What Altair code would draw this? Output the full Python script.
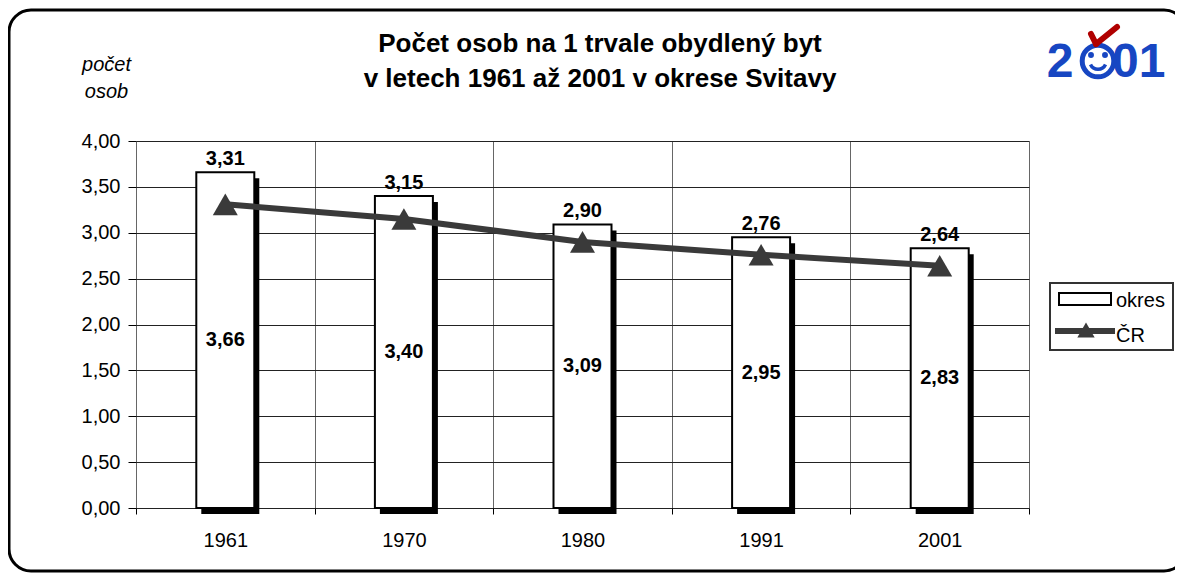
import altair as alt
import pandas as pd

# ---------------- data ----------------
years = ["1961", "1970", "1980", "1991", "2001"]
okres = [3.66, 3.40, 3.09, 2.95, 2.83]
cr = [3.31, 3.15, 2.90, 2.76, 2.64]
y_ticks = [0, 0.5, 1, 1.5, 2, 2.5, 3, 3.5, 4]
title_lines = ["Počet osob na 1 trvale obydlený byt",
               "v letech 1961 až 2001 v okrese Svitavy"]
y_title = ["počet", "osob"]
legend_labels = ["okres", "ČR"]

df = pd.DataFrame({"year": years, "okres": okres, "cr": cr})
one = pd.DataFrame({"k": [0]})

FONT = "Liberation Sans"
LINE = "#3a3a3a"
BLUE = "#1746c2"
W, H = 893, 367

fmt = "replace(format({}, '.2f'), '.', ',')"

xaxis = alt.Axis(
    labelAngle=0, labelFont=FONT, labelFontSize=20, labelColor="black",
    labelPadding=16, tickBand="extent", tickSize=6, tickColor="black",
    grid=True, gridColor="#666", gridWidth=1, domain=False,
)
yaxis = alt.Axis(
    values=y_ticks, labelExpr=fmt.format("datum.value"),
    labelFont=FONT, labelFontSize=20, labelColor="black", labelPadding=8,
    tickSize=8, tickColor="black", grid=True, gridColor="#222", gridWidth=1,
    domain=False,
    titleAngle=0, titleX=-30, titleY=-71, titleAlign="center",
    titleBaseline="alphabetic", titleFont=FONT, titleFontSize=20,
    titleFontStyle="italic", titleFontWeight="normal", titleColor="black",
    titleLineHeight=27,
)
xscale = alt.Scale(paddingInner=0, paddingOuter=0)
yscale = alt.Scale(domain=[0, 4], nice=False, zero=True)


def X():
    return alt.X("year:N", sort=years, title=None, axis=xaxis, scale=xscale)


def Y(field):
    return alt.Y(field, type="quantitative", scale=yscale, axis=yaxis, title=y_title)


base = alt.Chart(df)

# outer rounded frame
frame = alt.Chart(one).mark_rect(
    fill="white", fillOpacity=0, stroke="black", strokeWidth=3, cornerRadius=22
).encode(x=alt.value(-127), x2=alt.value(1050), y=alt.value(-131), y2=alt.value(430))

shadow = base.mark_bar(size=58, color="black", xOffset=5, yOffset=6).encode(
    x=X(), y=Y("okres"))
bars = base.mark_bar(size=58, fill="white", stroke="black", strokeWidth=2).encode(
    x=X(), y=Y("okres"))
line = base.mark_line(color=LINE, strokeWidth=6).encode(x=X(), y=Y("cr"))
pts = base.mark_point(shape="triangle-up", filled=True, size=625, color=LINE,
                      opacity=1).encode(x=X(), y=Y("cr"))

top_lbl = base.transform_calculate(lbl=fmt.format("datum.cr")).mark_text(
    font=FONT, fontSize=20, fontWeight="bold", baseline="alphabetic", dy=-7,
    color="black").encode(x=X(), y=Y("okres"), text="lbl:N")
mid_lbl = base.transform_calculate(
    lbl=fmt.format("datum.okres"), mid="datum.okres / 2").mark_text(
    font=FONT, fontSize=20, fontWeight="bold", baseline="alphabetic", dy=6,
    color="black").encode(x=X(), y=Y("mid"), text="lbl:N")

# legend (drawn manually, Excel style)
leg_box = alt.Chart(one).mark_rect(fill="white", stroke="#333", strokeWidth=2).encode(
    x=alt.value(914), x2=alt.value(1037), y=alt.value(142), y2=alt.value(209))
leg_sym1 = alt.Chart(one).mark_rect(fill="white", stroke="black", strokeWidth=2).encode(
    x=alt.value(923), x2=alt.value(975), y=alt.value(152), y2=alt.value(164))
leg_txt1 = alt.Chart(one).mark_text(font=FONT, fontSize=20, align="left",
                                    baseline="alphabetic", color="black").encode(
    x=alt.value(980), y=alt.value(166), text=alt.value(legend_labels[0]))
leg_line = alt.Chart(one).mark_rule(color=LINE, strokeWidth=6).encode(
    x=alt.value(919), x2=alt.value(979), y=alt.value(190))
leg_tri = alt.Chart(one).mark_point(shape="triangle-up", filled=True, size=300,
                                    color=LINE, opacity=1).encode(
    x=alt.value(950), y=alt.value(189))
leg_txt2 = alt.Chart(one).mark_text(font=FONT, fontSize=20, align="left",
                                    baseline="alphabetic", color="black").encode(
    x=alt.value(980), y=alt.value(201), text=alt.value(legend_labels[1]))

# title
title = alt.Chart(one).mark_text(font=FONT, fontSize=26, fontWeight="bold",
                                 align="center", baseline="alphabetic",
                                 lineHeight=35, color="black").encode(
    x=alt.value(464), y=alt.value(-89), text=alt.value(title_lines))

# census logo "2☺01"
logo_2 = alt.Chart(one).mark_text(font=FONT, fontSize=48, fontWeight="bold",
                                  align="center", baseline="alphabetic",
                                  color=BLUE).encode(
    x=alt.value(924), y=alt.value(-64), text=alt.value("2"))
logo_01 = alt.Chart(one).mark_text(font=FONT, fontSize=48, fontWeight="bold",
                                   align="left", baseline="alphabetic",
                                   color=BLUE).encode(
    x=alt.value(976), y=alt.value(-64), text=alt.value("01"))
logo_face = alt.Chart(one).mark_point(shape="circle", filled=False, size=1000,
                                      color=BLUE, strokeWidth=5, opacity=1).encode(
    x=alt.value(962), y=alt.value(-80))
logo_eye1 = alt.Chart(one).mark_point(shape="circle", filled=True, size=35,
                                      color=BLUE, opacity=1).encode(
    x=alt.value(955), y=alt.value(-86))
logo_eye2 = alt.Chart(one).mark_point(shape="circle", filled=True, size=35,
                                      color=BLUE, opacity=1).encode(
    x=alt.value(969), y=alt.value(-86))
logo_smile = alt.Chart(one).mark_arc(color=BLUE, radius=10, radius2=6.5,
                                     theta=2.0, theta2=4.28).encode(
    x=alt.value(962), y=alt.value(-80))
logo_chk1 = alt.Chart(one).mark_rule(color="#b00000", strokeWidth=6,
                                     strokeCap="round").encode(
    x=alt.value(955), y=alt.value(-107), x2=alt.value(960), y2=alt.value(-97))
logo_chk2 = alt.Chart(one).mark_rule(color="#b00000", strokeWidth=6,
                                     strokeCap="round").encode(
    x=alt.value(960), y=alt.value(-97), x2=alt.value(981), y2=alt.value(-114))

chart = alt.layer(
    frame, shadow, bars, line, pts, top_lbl, mid_lbl,
    leg_box, leg_sym1, leg_txt1, leg_line, leg_tri, leg_txt2,
    title, logo_2, logo_01, logo_face, logo_eye1, logo_eye2, logo_smile,
    logo_chk1, logo_chk2,
).properties(
    width=W, height=H,
    autosize=alt.AutoSizeParams(type="none"),
    padding={"left": 128, "top": 133, "right": 146, "bottom": 65},
).configure_view(
    stroke="black", strokeWidth=2
).configure(background="white")

chart.save("out.html", embed_options={"renderer": "svg", "actions": False})
